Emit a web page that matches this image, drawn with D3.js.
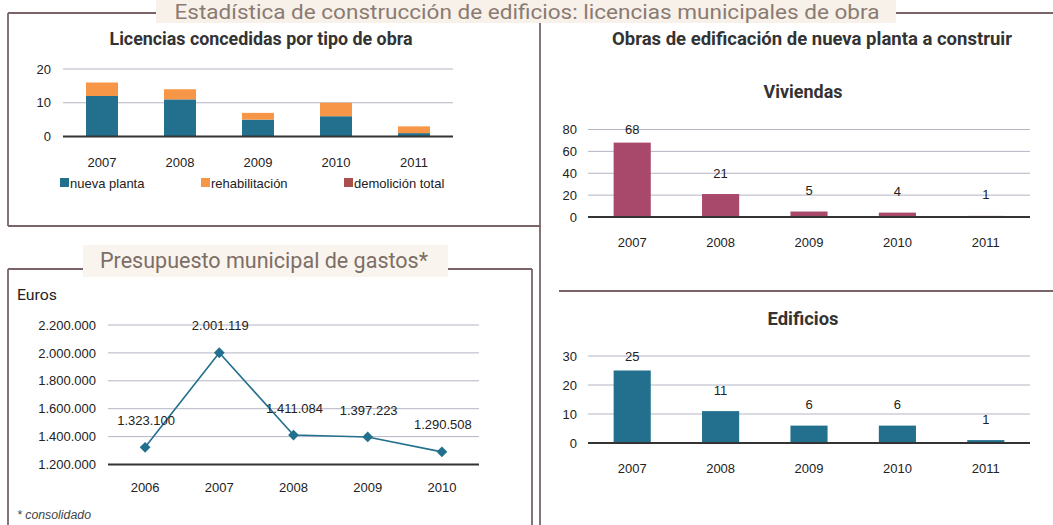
<!DOCTYPE html>
<html>
<head>
<meta charset="utf-8">
<script src="https://cdn.jsdelivr.net/npm/d3@7"></script>
<style>
  body { margin: 0; background: #fff; }
  svg text { font-family: "Liberation Sans", Arial, sans-serif; fill: #222; }
  .ttl { font-family: Roboto, "Liberation Sans", sans-serif; font-weight: bold; fill: #333; }
  .grid line { stroke: #b4b4c6; stroke-width: 1; }
  .axis path, .axis line { display: none; }
</style>
</head>
<body>
<svg width="1053" height="525"></svg>
<script>
// Data
var years = ['2007', '2008', '2009', '2010', '2011']
var nuevaPlanta = [12, 11, 5, 6, 1]
var rehabilitacion = [4, 3, 2, 4, 2]
var demolicionTotal = [0, 0, 0, 0, 0]
var viviendas = [68, 21, 5, 4, 1]
var edificios = [25, 11, 6, 6, 1]
var presupuestoYears = ['2006', '2007', '2008', '2009', '2010']
var presupuesto = [1323100, 2001119, 1411084, 1397223, 1290508]

var teal = '#22708d', orange = '#f79646', maroon = '#a8486a', brick = '#aa4f50'
var frame = '#7a6468'

var svg = d3.select('svg')
var es = d3.formatLocale({ decimal: ',', thousands: '.', grouping: [3], currency: ['', ' €'] })
var fmt = es.format(',d')

// Frames
function line(x1, y1, x2, y2) {
  svg.append('line').attr('x1', x1).attr('y1', y1).attr('x2', x2).attr('y2', y2)
    .attr('stroke', frame).attr('stroke-width', 1.8)
}
line(8, 13, 1053, 13)
line(8, 13, 8, 226)
line(8, 226, 540, 226)
line(540, 13, 540, 525)
line(8, 269, 532, 269)
line(8, 269, 8, 525)
line(532, 269, 532, 525)
line(559, 291, 1053, 291)

// Main title
svg.append('rect').attr('x', 156).attr('y', 0).attr('width', 740).attr('height', 23).attr('fill', '#f8f1ea')
svg.append('text').attr('class', 'ttl').attr('x', 527).attr('y', 19)
  .attr('text-anchor', 'middle').attr('textLength', 705).attr('lengthAdjust', 'spacingAndGlyphs')
  .style('font-size', '20px').style('font-weight', 'normal').style('fill', '#8a7b72')
  .text('Estadística de construcción de edificios: licencias municipales de obra')

function title(txt, cx, y, w, size) {
  svg.append('text').attr('class', 'ttl').attr('x', cx).attr('y', y)
    .attr('text-anchor', 'middle').attr('textLength', w).attr('lengthAdjust', 'spacingAndGlyphs')
    .style('font-size', size + 'px').text(txt)
}

function gridAndAxes(x, y, ticks, fmtY, yPad, xPad) {
  var r = x.range()
  svg.append('g').attr('class', 'grid')
    .selectAll('line').data(ticks.filter(function(t) { return t !== y.domain()[0] })).enter()
    .append('line')
    .attr('x1', r[0]).attr('x2', r[1])
    .attr('y1', function(d) { return y(d) }).attr('y2', function(d) { return y(d) })
  svg.append('g').attr('class', 'axis').attr('transform', 'translate(' + r[0] + ',0)')
    .call(d3.axisLeft(y).tickValues(ticks).tickSize(0).tickPadding(yPad).tickFormat(fmtY))
    .selectAll('text').style('font-size', '13px')
  svg.append('g').attr('class', 'axis').attr('transform', 'translate(0,' + y.range()[0] + ')')
    .call(d3.axisBottom(x).tickSize(0).tickPadding(xPad))
    .selectAll('text').style('font-size', '13px')
}

function baseline(x, y) {
  var r = x.range()
  svg.append('line').attr('x1', r[0]).attr('x2', r[1])
    .attr('y1', y.range()[0]).attr('y2', y.range()[0])
    .attr('stroke', '#333').attr('stroke-width', 2)
}

// Chart 1: Licencias concedidas por tipo de obra (stacked)
title('Licencias concedidas por tipo de obra', 261, 45, 303, 18)
var x1 = d3.scaleBand().domain(years).range([63, 453]).paddingInner(0.59).paddingOuter(0.295)
var y1 = d3.scaleLinear().domain([0, 20]).range([136.5, 69])
gridAndAxes(x1, y1, [0, 10, 20], d3.format('d'), 12, 21)

var stackRows = years.map(function(yr, i) {
  return { year: yr, nueva: nuevaPlanta[i], rehab: rehabilitacion[i], demol: demolicionTotal[i] }
})
var keys = ['nueva', 'rehab', 'demol']
var colors = { nueva: teal, rehab: orange, demol: brick }
var series = d3.stack().keys(keys)(stackRows)
svg.append('g').selectAll('g').data(series).enter().append('g')
  .attr('fill', function(d) { return colors[d.key] })
  .selectAll('rect').data(function(d) { return d }).enter().append('rect')
  .attr('x', function(d) { return x1(d.data.year) })
  .attr('width', x1.bandwidth())
  .attr('y', function(d) { return y1(d[1]) })
  .attr('height', function(d) { return y1(d[0]) - y1(d[1]) })
baseline(x1, y1)

// Legend
var legendLabels = ['nueva planta', 'rehabilitación', 'demolición total']
var legendX = [60, 201, 344]
var lg = svg.append('g').attr('transform', 'translate(0,178)')
legendLabels.forEach(function(lbl, i) {
  lg.append('rect').attr('x', legendX[i]).attr('y', 0).attr('width', 9).attr('height', 9).attr('fill', colors[keys[i]])
  lg.append('text').attr('x', legendX[i] + 10).attr('y', 9.5).style('font-size', '13px').text(lbl)
})

// Simple bar charts
function barChart(values, color, xr, yDomain, yRange, ticks) {
  var x = d3.scaleBand().domain(years).range(xr).paddingInner(0.58).paddingOuter(0.29)
  var y = d3.scaleLinear().domain(yDomain).range(yRange)
  gridAndAxes(x, y, ticks, d3.format('d'), 11, 20.5)
  svg.append('g').selectAll('rect').data(values).enter().append('rect')
    .attr('x', function(d, i) { return x(years[i]) })
    .attr('width', x.bandwidth())
    .attr('y', function(d) { return y(d) })
    .attr('height', function(d) { return y(0) - y(d) })
    .attr('fill', color)
  baseline(x, y)
  svg.append('g').selectAll('text').data(values).enter().append('text')
    .attr('x', function(d, i) { return x(years[i]) + x.bandwidth() / 2 })
    .attr('y', function(d) { return Math.max(y(d) - 21, yRange[1]) })
    .attr('dy', '0.35em').attr('text-anchor', 'middle').style('font-size', '13px')
    .text(function(d) { return d })
}

title('Obras de edificación de nueva planta a construir', 812, 45, 400, 18)
title('Viviendas', 803, 98, 79, 18)
barChart(viviendas, maroon, [588, 1030], [0, 80], [217, 129.5], [0, 20, 40, 60, 80])

title('Edificios', 803, 325, 71, 18)
barChart(edificios, teal, [588, 1030], [0, 30], [443, 356], [0, 10, 20, 30])

// Presupuesto municipal de gastos
svg.append('rect').attr('x', 83).attr('y', 245).attr('width', 365).attr('height', 32).attr('fill', '#faf4ee')
svg.append('text').attr('class', 'ttl').attr('x', 264).attr('y', 268)
  .attr('text-anchor', 'middle').attr('textLength', 328).attr('lengthAdjust', 'spacingAndGlyphs')
  .style('font-size', '22px').style('font-weight', 'normal').style('fill', '#7d6e66')
  .text('Presupuesto municipal de gastos*')
svg.append('text').attr('class', 'ttl').attr('x', 17).attr('y', 300)
  .attr('textLength', 40).attr('lengthAdjust', 'spacingAndGlyphs')
  .style('font-size', '15px').style('font-weight', 'normal').style('fill', '#222').text('Euros')

var xl = d3.scaleBand().domain(presupuestoYears).range([108, 479])
var yl = d3.scaleLinear().domain([1200000, 2200000]).range([464.5, 325])
gridAndAxes(xl, yl, d3.range(1200000, 2200001, 200000), fmt, 12, 18)
baseline(xl, yl)

var pts = presupuesto.map(function(v, i) { return [xl(presupuestoYears[i]) + xl.bandwidth() / 2, yl(v)] })
svg.append('path').attr('d', d3.line()(pts)).attr('fill', 'none').attr('stroke', teal).attr('stroke-width', 1.6)
svg.append('g').selectAll('path').data(pts).enter().append('path')
  .attr('d', d3.symbol().type(d3.symbolSquare).size(58))
  .attr('transform', function(d) { return 'translate(' + d[0] + ',' + d[1] + ') rotate(45)' })
  .attr('fill', teal)
svg.append('g').selectAll('text').data(presupuesto).enter().append('text')
  .attr('x', function(d, i) { return pts[i][0] + 1 })
  .attr('y', function(d, i) { return pts[i][1] - 27 })
  .attr('dy', '0.35em').attr('text-anchor', 'middle').style('font-size', '13px')
  .text(function(d) { return fmt(d) })

svg.append('text').attr('x', 17).attr('y', 519)
  .attr('textLength', 74).attr('lengthAdjust', 'spacingAndGlyphs')
  .style('font-size', '12px').style('font-style', 'italic').style('fill', '#444')
  .text('* consolidado')
</script>
</body>
</html>
